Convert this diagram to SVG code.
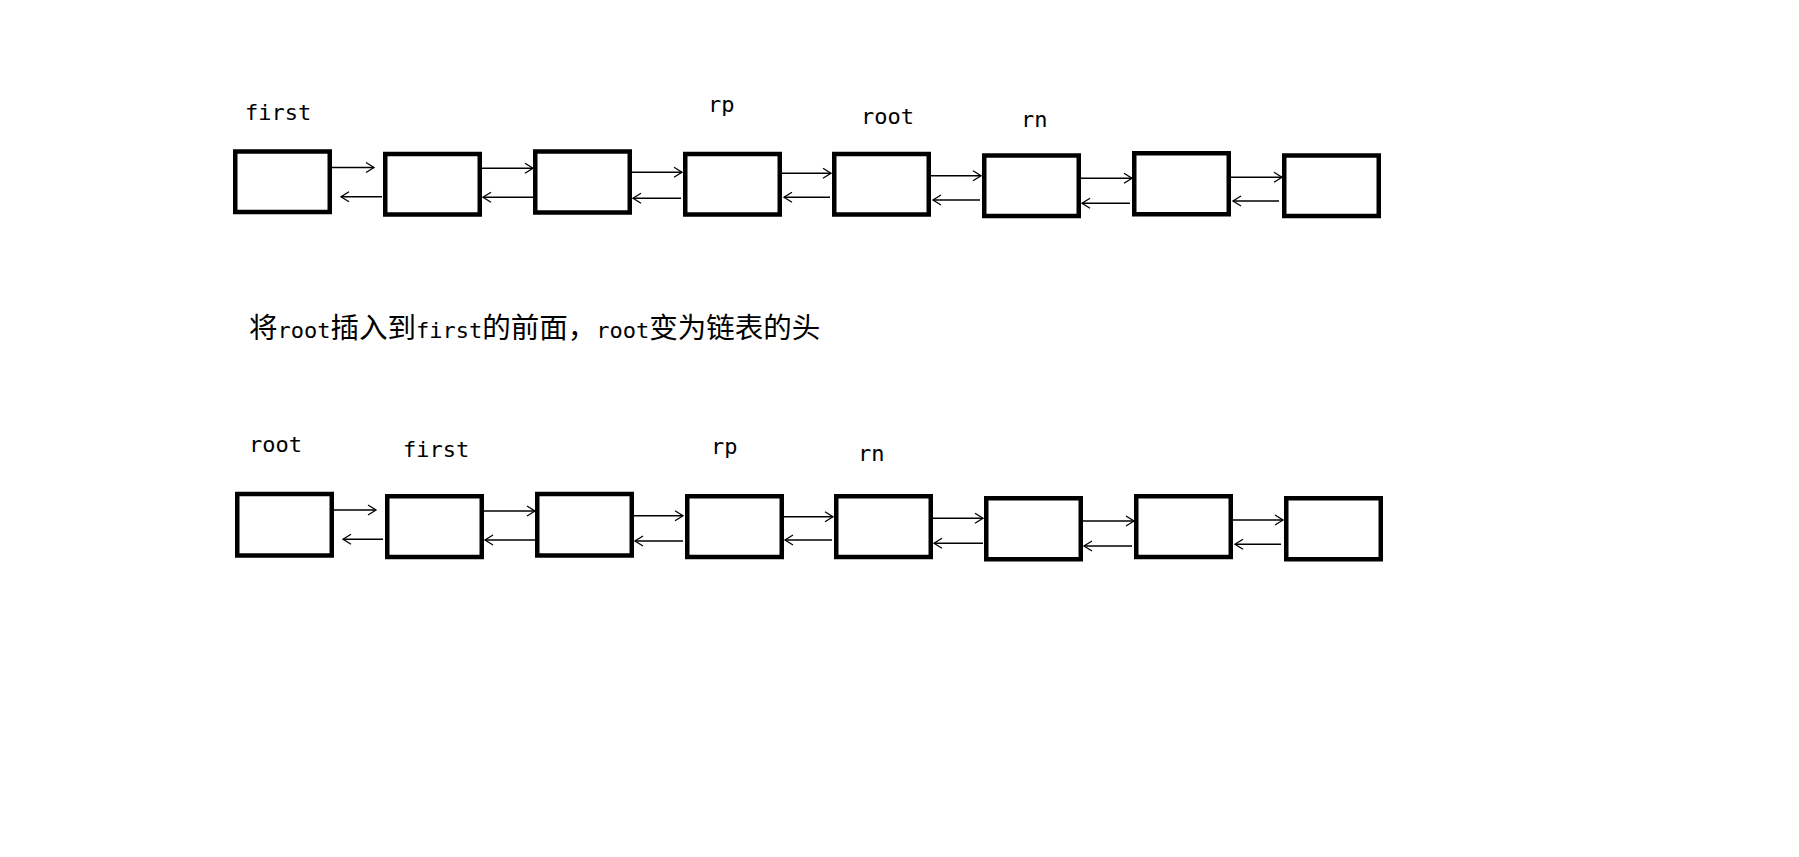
<svg xmlns="http://www.w3.org/2000/svg" width="1799" height="857" viewBox="0 0 1799 857">
<style>
.box{fill:#fff;stroke:#000;stroke-width:4.5}
.lbl{font-family:"DejaVu Sans Mono","Liberation Mono",monospace;font-size:22px;fill:#000}
.c{font-family:"Noto Sans CJK SC","DejaVu Sans Mono",sans-serif;font-size:28.5px}
.ar{stroke:#000;stroke-width:1.4;fill:none;marker-end:url(#h)}
</style>
<defs>
<marker id="h" markerUnits="userSpaceOnUse" markerWidth="14" markerHeight="14" viewBox="-10 -7 12 14" refX="0" refY="0" orient="auto">
<path d="M-8,-5 L0,0 L-8,5" fill="none" stroke="#000" stroke-width="1.3"/>
</marker>
</defs>
<rect width="1799" height="857" fill="#fff"/>
<g id="row1">
<g id="r1n1"><rect class="box" x="235.25" y="151.5" width="94.5" height="60.5"/><text class="lbl" x="245" y="120">first</text></g>
<g id="r1n2"><rect class="box" x="385.25" y="154" width="94.5" height="60.5"/></g>
<g id="r1n3"><rect class="box" x="535.25" y="151.5" width="94.5" height="61"/></g>
<g id="r1n4"><rect class="box" x="685.25" y="154" width="94.5" height="60.5"/><text class="lbl" x="708" y="112">rp</text></g>
<g id="r1n5"><rect class="box" x="834.25" y="154" width="94.5" height="60.5"/><text class="lbl" x="861" y="124">root</text></g>
<g id="r1n6"><rect class="box" x="984.25" y="155.5" width="94.5" height="60.5"/><text class="lbl" x="1021" y="127">rn</text></g>
<g id="r1n7"><rect class="box" x="1134.25" y="153.25" width="94.5" height="61"/></g>
<g id="r1n8"><rect class="box" x="1284.25" y="155.5" width="94.5" height="60.5"/></g>
</g>
<g id="caption"><text class="lbl" x="249" y="338"><tspan class="c">将</tspan>root<tspan class="c">插入到</tspan>first<tspan class="c">的前面，</tspan>root<tspan class="c">变为链表的头</tspan></text></g>
<g id="row2">
<g id="r2n1"><rect class="box" x="237.25" y="494" width="94.5" height="61.5"/><text class="lbl" x="249" y="452">root</text></g>
<g id="r2n2"><rect class="box" x="387.25" y="496.25" width="94.5" height="60.75"/><text class="lbl" x="403" y="457">first</text></g>
<g id="r2n3"><rect class="box" x="537.25" y="494" width="94.5" height="61.5"/></g>
<g id="r2n4"><rect class="box" x="687.25" y="496.25" width="94.5" height="60.75"/><text class="lbl" x="711" y="454">rp</text></g>
<g id="r2n5"><rect class="box" x="836.25" y="496.25" width="94.5" height="60.75"/><text class="lbl" x="858" y="461">rn</text></g>
<g id="r2n6"><rect class="box" x="986.25" y="498.25" width="94.5" height="61"/></g>
<g id="r2n7"><rect class="box" x="1136.25" y="496.25" width="94.5" height="60.75"/></g>
<g id="r2n8"><rect class="box" x="1286.25" y="498.25" width="94.5" height="61"/></g>
</g>
<g id="connectors">
<line class="ar" x1="332" y1="167.5" x2="374" y2="167.5"/>
<line class="ar" x1="382" y1="196.7" x2="341" y2="196.7"/>
<line class="ar" x1="482" y1="168.3" x2="533" y2="168.3"/>
<line class="ar" x1="533" y1="197.3" x2="483" y2="197.3"/>
<line class="ar" x1="632" y1="172.3" x2="682" y2="172.3"/>
<line class="ar" x1="681" y1="198.3" x2="633" y2="198.3"/>
<line class="ar" x1="782" y1="173.3" x2="831" y2="173.3"/>
<line class="ar" x1="830" y1="197.3" x2="784" y2="197.3"/>
<line class="ar" x1="931" y1="175.7" x2="981" y2="175.7"/>
<line class="ar" x1="980" y1="200" x2="933" y2="200"/>
<line class="ar" x1="1081" y1="178.3" x2="1132" y2="178.3"/>
<line class="ar" x1="1130" y1="203.3" x2="1082" y2="203.3"/>
<line class="ar" x1="1231" y1="177.3" x2="1282" y2="177.3"/>
<line class="ar" x1="1279" y1="201" x2="1233" y2="201"/>
<line class="ar" x1="334" y1="510" x2="376" y2="510"/>
<line class="ar" x1="383" y1="539.3" x2="343" y2="539.3"/>
<line class="ar" x1="484" y1="511" x2="535" y2="511"/>
<line class="ar" x1="535" y1="540" x2="485" y2="540"/>
<line class="ar" x1="634" y1="515.7" x2="683" y2="515.7"/>
<line class="ar" x1="683" y1="541" x2="635" y2="541"/>
<line class="ar" x1="784" y1="516.7" x2="833" y2="516.7"/>
<line class="ar" x1="832" y1="540" x2="785" y2="540"/>
<line class="ar" x1="933" y1="518.3" x2="983" y2="518.3"/>
<line class="ar" x1="983" y1="543.3" x2="934" y2="543.3"/>
<line class="ar" x1="1083" y1="521" x2="1134" y2="521"/>
<line class="ar" x1="1132" y1="546" x2="1084" y2="546"/>
<line class="ar" x1="1233" y1="520" x2="1283" y2="520"/>
<line class="ar" x1="1281" y1="544.3" x2="1235" y2="544.3"/>
</g>
</svg>
